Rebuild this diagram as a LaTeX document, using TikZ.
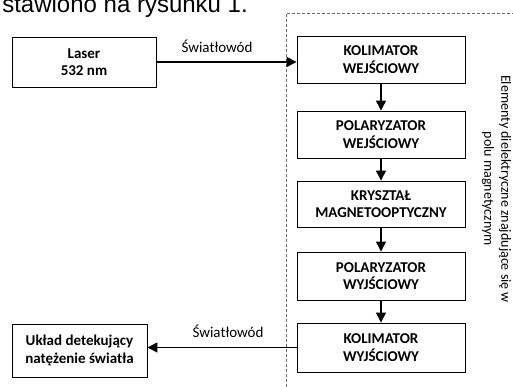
\documentclass[tikz,border=0pt]{standalone}
\usepackage{fontspec}
\setmainfont{Carlito}
\newfontfamily\arialfont{Liberation Sans}
\usetikzlibrary{arrows.meta}
\tikzset{
  box/.style={draw=black, line width=0.9pt, align=center, inner sep=0pt,
    font=\bfseries\fontsize{15}{17.5}\selectfont},
  flow/.style={line width=1.3pt, -{Triangle[length=10pt,width=10pt]}},
  zone/.style={draw=gray!85!black, line width=0.8pt, dash pattern=on 3pt off 2pt},
  lbl/.style={font=\fontsize{15}{18}\selectfont, inner sep=0pt}
}
\begin{document}
\begin{tikzpicture}[x=1pt,y=1pt]
\useasboundingbox (0,0) rectangle (513,387);
% clipped text from the page above
\node[anchor=base east, inner sep=0pt, font=\arialfont\fontsize{24}{28}\selectfont] (head) at (248,374.5) {stawiono na rysunku 1.};
% dashed zone
\draw[zone] (286,0) -- (286,374) -- (513,374);
% boxes
\node[box, minimum width=144pt, minimum height=50pt] (laser) at (84,325) {Laser\\532 nm};
\node[box, minimum width=168pt, minimum height=47pt] (kolw) at (381,327.5) {KOLIMATOR\\WEJŚCIOWY};
\node[box, minimum width=168pt, minimum height=47pt] (polw) at (381,252.5) {POLARYZATOR\\WEJŚCIOWY};
\node[box, minimum width=168pt, minimum height=46pt] (kryst) at (381,183) {KRYSZTAŁ\\MAGNETOOPTYCZNY};
\node[box, minimum width=168pt, minimum height=48pt] (polwy) at (381,111) {POLARYZATOR\\WYJŚCIOWY};
\node[box, minimum width=168pt, minimum height=49pt] (kolwy) at (381,39.5) {KOLIMATOR\\WYJŚCIOWY};
\node[box, minimum width=135pt, minimum height=53pt] (det) at (79.5,36.5) {Układ detekujący\\natężenie światła};
% connectors
\draw[flow] (laser.east) -- (kolw.west |- laser.east);
\draw[flow] (kolw) -- (polw);
\draw[flow] (polw) -- (kryst);
\draw[flow] (kryst) -- (polwy);
\draw[flow] (polwy) -- (kolwy);
\draw[flow] (kolwy.west) -- (det.east |- kolwy.west);
% labels
\node[lbl] (l1) at (217,341) {Światłowód};
\node[lbl] (l2) at (228,56) {Światłowód};
\node[rotate=-90, align=center, font=\fontsize{14}{17}\selectfont, inner sep=0pt] (zonelbl) at (496.5,198) {Elementy dielektryczne znajdujące się w\\polu magnetycznym};
\end{tikzpicture}
\end{document}
